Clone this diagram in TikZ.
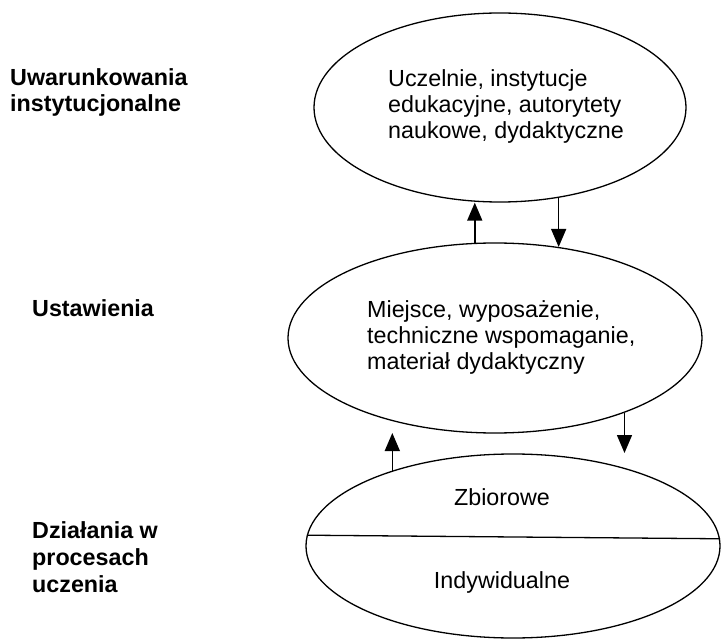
\documentclass[tikz,border=0pt]{standalone}
\usepackage{fontspec}
\setmainfont{Liberation Sans}
\usetikzlibrary{shapes.geometric,arrows.meta}

\begin{document}
\begin{tikzpicture}[x=1pt, y=-1pt,
	sfera/.style={draw, ellipse, line width=1.3pt, inner sep=0pt},
	opis/.style={anchor=base west, align=left, inner sep=0pt,
		font=\fontsize{23.3}{26}\selectfont},
	poziom/.style={opis, font=\fontsize{23.3}{26.8}\selectfont\bfseries},
	flow/.style={line width=1.5pt, -{Triangle[width=15pt, length=18pt]}}]
	\useasboundingbox (0,0) rectangle (721,639);
	
	% trzy poziomy
	\node[sfera, minimum width=372pt, minimum height=189pt] (inst) at (500,107.5) {};
	\node[sfera, minimum width=414pt, minimum height=190pt] (ust) at (495,338) {};
	\node[sfera, minimum width=414pt, minimum height=184pt] (dzial) at (513,546) {};
	\draw[line width=1.3pt] (dzial.177.8) -- (dzial.2.2);
	
	% tekst w elipsach (base = ostatnia linia)
	\node[opis] (instTxt) at (388,139)
	{Uczelnie, instytucje\\edukacyjne, autorytety\\naukowe, dydaktyczne};
	\node[opis] (ustTxt) at (367,370)
	{Miejsce, wyposażenie,\\techniczne wspomaganie,\\materiał dydaktyczny};
	\node[opis, anchor=base] (zbior) at (502,505) {Zbiorowe};
	\node[opis, anchor=base] (indyw) at (502,588) {Indywidualne};
	
	% etykiety po lewej
	\node[poziom] (instLab) at (10,112) {Uwarunkowania\\instytucjonalne};
	\node[poziom] (ustLab) at (32,317) {Ustawienia};
	\node[poziom] (dzialLab) at (32,592) {Działania w\\procesach\\uczenia};
	
	% strzalki
	\coordinate (tipUp) at (391,433);
	\coordinate (tipDown) at (622,453);
	\draw[flow] (ust.102) -- (ust.102 |- inst.south);
	\draw[flow] (inst.-57) -- (inst.-57 |- ust.55);
	\draw[flow] (dzial.148.8) -- (dzial.148.8 |- tipUp);
	\draw[flow] (ust.-30.6) -- (ust.-30.6 |- tipDown);
\end{tikzpicture}
\end{document}
